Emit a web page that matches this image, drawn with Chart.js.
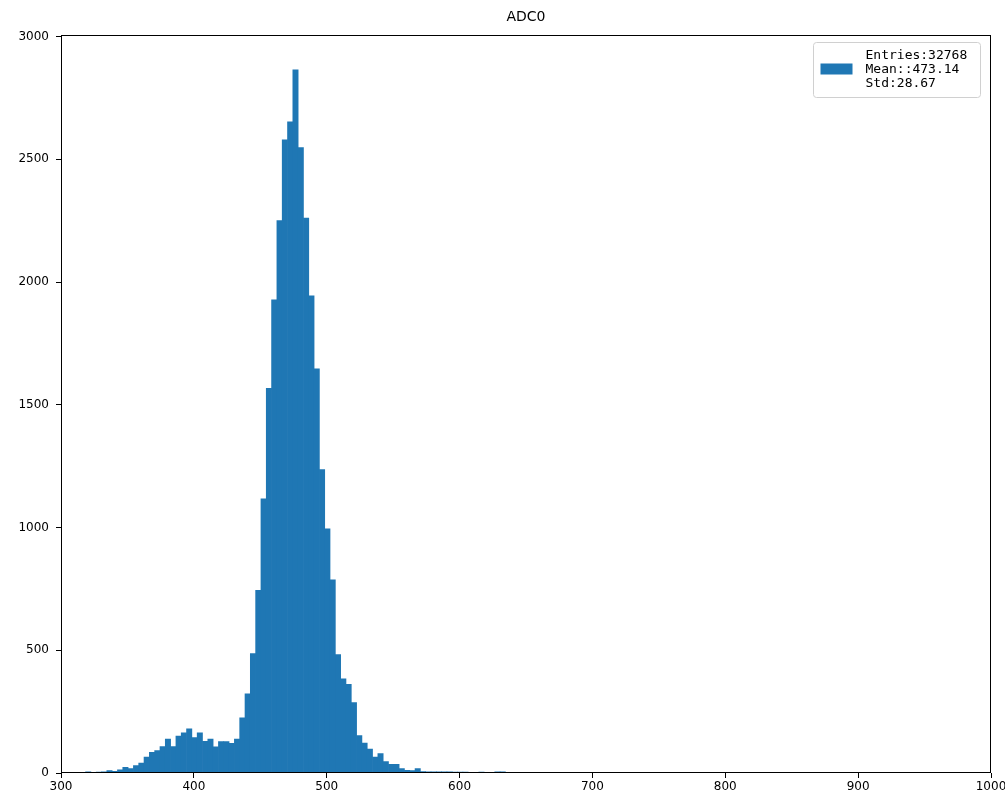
<!DOCTYPE html>
<html>
<head>
<meta charset="utf-8">
<title>ADC0</title>
<script src="https://cdn.jsdelivr.net/npm/chart.js@4.4.1/dist/chart.umd.min.js"></script>
<style>
  html, body { margin: 0; padding: 0; background: #fff; }
  #wrap { width: 1005px; height: 799px; position: relative; }
</style>
</head>
<body>
<div id="wrap"><canvas id="chart"></canvas></div>
<script>
// histogram bins: left edge of first bin and width
const binStart = 318.5;
const binWidth = 4;
const counts = [
  5, 0, 4, 5, 10, 7, 13, 23, 18, 30, 40,
  65, 84, 91, 108, 138, 108, 150, 164, 180, 144, 164, 129, 138, 107, 128, 128, 121, 138,
  225, 323, 486, 744, 1117, 1567, 1927, 2250, 2579, 2652, 2864, 2548, 2260, 1944, 1646,
  1236, 995, 787, 482, 384, 361, 287, 152, 122, 97, 65, 79, 47, 35, 35, 18, 11, 10, 18,
  6, 5, 5, 5, 5, 5, 4, 4, 4, 0, 0, 4, 0, 0, 5, 5
];
const xTicks = [300, 400, 500, 600, 700, 800, 900, 1000];
const yTicks = [0, 500, 1000, 1500, 2000, 2500, 3000];
const legendLines = ["Entries:32768", "Mean::473.14", "Std:28.67"];
const titleText = "ADC0";

const barColor = "#1f77b4";
const points = counts.map((c, i) => ({ x: binStart + binWidth * (i + 0.5), y: c }));

const framePlugin = {
  id: "frame",
  afterDraw(chart) {
    const ctx = chart.ctx;
    const a = chart.chartArea;
    ctx.save();
    ctx.strokeStyle = "#000";
    ctx.lineWidth = 1;
    ctx.strokeRect(Math.round(a.left) + 0.5, Math.round(a.top) + 0.5,
      Math.round(a.right - a.left) - 1, Math.round(a.bottom - a.top) - 1);

    // legend box, upper right
    const w = 167, h = 55;
    const bx = Math.round(a.right) - 11 - w + 0.5;
    const by = Math.round(a.top) + 7 + 0.5;
    ctx.beginPath();
    ctx.roundRect(bx, by, w, h, 3);
    ctx.fillStyle = "rgba(255,255,255,0.8)";
    ctx.fill();
    ctx.strokeStyle = "#d0d0d0";
    ctx.stroke();
    ctx.fillStyle = barColor;
    ctx.fillRect(bx + 7, by + 21, 32, 11);
    ctx.fillStyle = "#000";
    ctx.font = "13px 'DejaVu Sans Mono'";
    ctx.textBaseline = "middle";
    legendLines.forEach((t, i) => {
      ctx.fillText(t, bx + 52, by + 13 + i * 14);
    });
    ctx.restore();
  }
};

const ctx = document.getElementById("chart").getContext("2d");
const chart = new Chart(ctx, {
  type: "bar",
  data: {
    datasets: [{
      label: "ADC0",
      data: points,
      backgroundColor: barColor,
      borderWidth: 0,
      barPercentage: 1,
      categoryPercentage: 1
    }]
  },
  options: {
    responsive: true,
    maintainAspectRatio: false,
    animation: false,
    layout: { padding: { left: 0, right: 14, top: 0, bottom: 0 } },
    plugins: {
      legend: { display: false },
      tooltip: { enabled: false },
      title: {
        display: true,
        text: titleText,
        fullSize: false,
        color: "#000",
        font: { family: "DejaVu Sans", size: 14, weight: "normal" },
        padding: { top: 9, bottom: 9 }
      }
    },
    scales: {
      x: {
        type: "linear",
        min: 300,
        max: 1000,
        offset: false,
        afterBuildTicks: (s) => { s.ticks = xTicks.map(v => ({ value: v })); },
        afterFit: (s) => { s.height = 26; s.paddingLeft = 0; s.paddingRight = 0; },
        grid: { drawOnChartArea: false, offset: false, tickLength: 5, color: "#000" },
        border: { display: false },
        ticks: {
          color: "#000", padding: 2, maxRotation: 0,
          font: { family: "DejaVu Sans", size: 12 },
          callback: (v) => String(v)
        }
      },
      y: {
        min: 0,
        max: 3007,
        afterBuildTicks: (s) => { s.ticks = yTicks.map(v => ({ value: v })); },
        afterFit: (s) => { s.width = 61; },
        grid: { drawOnChartArea: false, tickLength: 5, color: "#000" },
        border: { display: false },
        ticks: {
          color: "#000", padding: 7,
          font: { family: "DejaVu Sans", size: 12 },
          callback: (v) => String(v)
        }
      }
    }
  },
  plugins: [framePlugin]
});
</script>
</body>
</html>
